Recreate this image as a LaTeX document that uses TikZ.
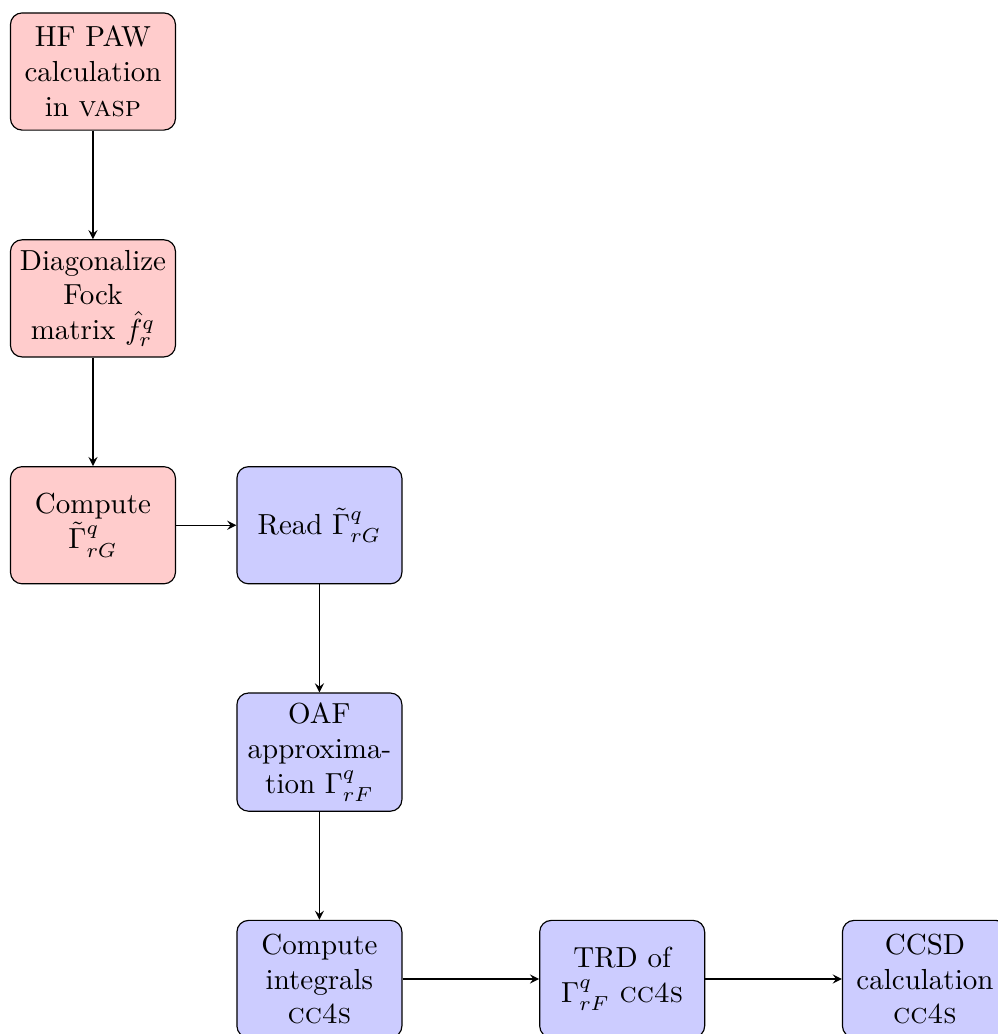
\documentclass[tikz,border=0pt]{standalone}
\usepackage{tikz}
\usetikzlibrary{arrows}

\tikzset{
  stepred/.style={rectangle, rounded corners, draw=black, fill=red!20,
    minimum width=2cm, minimum height=1.42cm, text width=1.8cm, inner xsep=2.8pt, align=center},
  stepblue/.style={stepred, fill=blue!20},
  flow/.style={->, >=stealth}
}

\begin{document}
\begin{tikzpicture}
		%%%%% START %%%%%
		
		\useasboundingbox (-1.127, 0.867) rectangle (10.97, -11.667);
		
		\node[stepred] (vasp) at (0, 0) {HF PAW calculation in \textsc{vasp}};
		\node[stepred] (fock) at (0, -2.75) {Diagonalize Fock matrix $\hat{f}^q_r$};
		\node[stepred] (gammaG) at (0, -5.5) {Compute $\tilde{\Gamma}^q_{rG}$};
		
		\node[stepblue] (read) at (2.745, -5.5) {Read $\tilde{\Gamma}^q_{rG}$};
		\node[stepblue] (oaf) at (2.745, -8.25) {OAF approxi\-ma\-tion $\Gamma^q_{rF}$};
		\node[stepblue] (integrals) at (2.745, -11.0) {Compute integrals \textsc{cc4s}};
		\node[stepblue] (trd) at (6.415, -11.0) {TRD of $\Gamma^q_{rF}$ \textsc{cc4s}};
		\node[stepblue] (ccsd) at (10.085, -11.0) {CCSD calculation \textsc{cc4s}};
		
		\draw[flow] (vasp) -- (fock);
		\draw[flow] (fock) -- (gammaG);
		\draw[flow] (gammaG) -- (read);
		\draw[flow] (read) -- (oaf);
		\draw[flow] (oaf) -- (integrals);
		\draw[flow] (integrals) -- (trd);
		\draw[flow] (trd) -- (ccsd);
		
		%%%%% END %%%%%
	\end{tikzpicture}
\end{document}
